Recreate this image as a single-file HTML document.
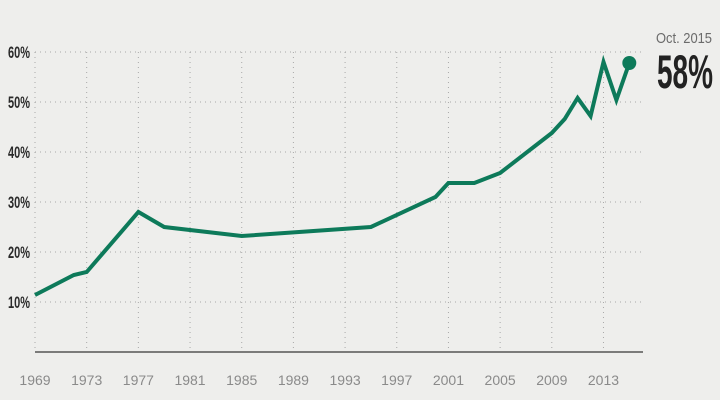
<!DOCTYPE html>
<html><head><meta charset="utf-8"><style>
html,body{margin:0;padding:0;background:#eeeeec;}
svg{display:block;font-family:"Liberation Sans",sans-serif;}
</style></head><body>
<svg id="chart" width="720" height="400" viewBox="0 0 720 400" xmlns="http://www.w3.org/2000/svg">
<rect width="720" height="400" fill="#eeeeec"/>
<g id="grid"></g>
<g id="axes"></g>
<g id="series"></g>
<text x="656" y="43" font-size="15" fill="#6b6b6b" textLength="56" lengthAdjust="spacingAndGlyphs">Oct. 2015</text>
<text x="657" y="88" font-size="47" font-weight="bold" fill="#222" textLength="56" lengthAdjust="spacingAndGlyphs">58%</text>
</svg>
<script>
const years = [1969,1972,1973,1977,1979,1985,1995,2000,2001,2003,2005,2009,2010,2011,2012,2013,2014,2015];
const values = [11.4,15.4,16,28,25,23.2,25,31,33.8,33.8,35.8,43.8,46.6,50.8,47.2,58,50.4,57.8];
const xTicks = [1969,1973,1977,1981,1985,1989,1993,1997,2001,2005,2009,2013];
const yTicks = [10,20,30,40,50,60];
const yTickLabels = ["10%","20%","30%","40%","50%","60%"];

const NS="http://www.w3.org/2000/svg";
const X0=35, X1=643, Y0=352;
function x(yr){return 35+(yr-1969)*12.92;}
function y(v){return Y0-v*5;}
function mk(tag,attrs,parent){const e=document.createElementNS(NS,tag);for(const k in attrs)e.setAttribute(k,attrs[k]);parent.appendChild(e);return e;}
const grid=document.getElementById('grid'), axes=document.getElementById('axes'), series=document.getElementById('series');

xTicks.forEach(t=>{
  const l=mk('line',{x1:x(t),x2:x(t),y1:y(60),y2:Y0,stroke:'#a8a8a8','stroke-width':1,'stroke-dasharray':'1 4'},grid);
  
  
  const tx=mk('text',{x:x(t),y:385,'font-size':14,fill:'#8a8a8a','text-anchor':'middle'},axes);
  tx.textContent=t;
  
  
});
yTicks.forEach((t,i)=>{
  const l=mk('line',{x1:X0,x2:X1,y1:y(t),y2:y(t),stroke:'#a8a8a8','stroke-width':1,'stroke-dasharray':'1 4'},grid);
  
  
  const tx=mk('text',{x:8,y:y(t)+6,'font-size':17,'font-weight':'bold',fill:'#2a2a2a',textLength:22,lengthAdjust:'spacingAndGlyphs'},axes);
  tx.textContent=yTickLabels[i];
  
  
});
const base=mk('line',{x1:X0,x2:X1,y1:Y0,y2:Y0,stroke:'#555','stroke-width':1.5},axes);



const pts=years.map((yr,i)=>x(yr).toFixed(1)+','+y(values[i]).toFixed(1)).join(' ');
const pl=mk('polyline',{points:pts,fill:'none',stroke:'#0d7a5a','stroke-width':4,'stroke-linejoin':'miter','stroke-linecap':'butt'},series);


const n=years.length-1;
const dot=mk('circle',{cx:x(years[n]),cy:y(values[n]),r:7,fill:'#0d7a5a'},series);


</script>
</body></html>
